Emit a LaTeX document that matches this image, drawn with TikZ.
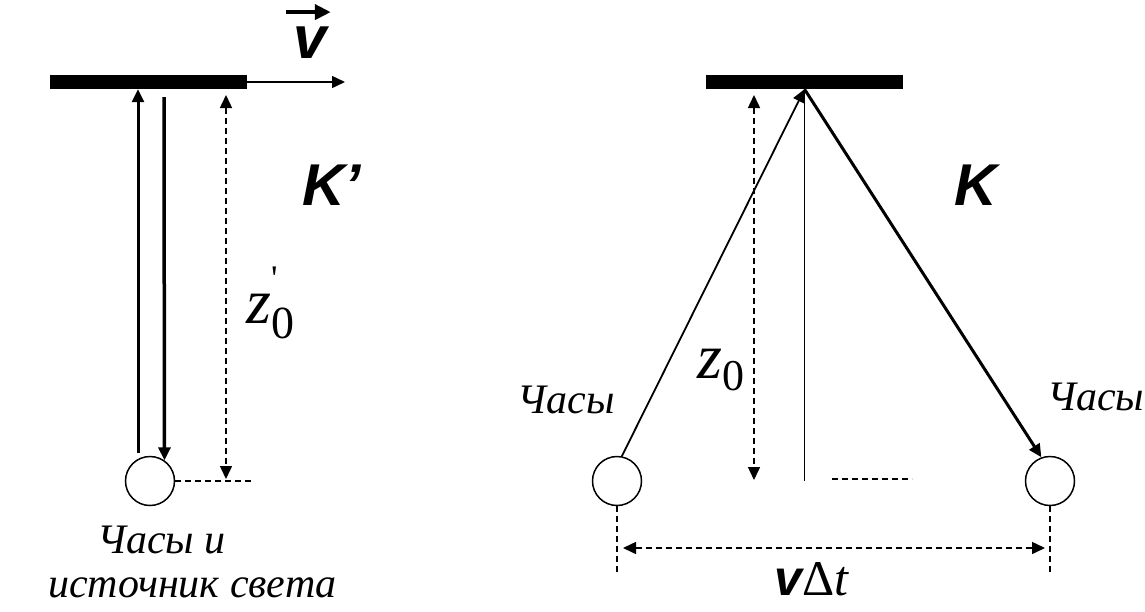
\documentclass[tikz,border=0pt]{standalone}
\usepackage{fontspec}
\setmainfont{Liberation Serif}
\setsansfont{Liberation Sans}
\usetikzlibrary{arrows.meta}

\tikzset{
  mirror/.style={fill=black, inner sep=0, minimum width=197pt, minimum height=14pt},
  clock/.style={circle, draw, line width=1.5pt, inner sep=0, minimum size=49pt},
  ray/.style={line width=3pt, ->},
  thinray/.style={line width=1.8pt, ->},
  gauge/.style={line width=1.5pt, dash pattern=on 6pt off 4pt},
  lbl/.style={inner sep=0, anchor=base west},
  bigsans/.style={font=\sffamily\bfseries\itshape\fontsize{59}{59}\selectfont},
  caption/.style={font=\itshape\fontsize{42}{42}\selectfont},
  zlabel/.style={font=\itshape\fontsize{64}{64}\selectfont},
}

\begin{document}
\begin{tikzpicture}[x=1pt, y=-1pt, >={Triangle[length=13pt,width=12pt]}]
  \useasboundingbox (0,0) rectangle (1145,611);

  % frame K' (mirror moves with the clock)
  \node[mirror] (mirL) at (148,82) {};
  \node[clock] (clkL) at (150,481) {};
  \coordinate (upL) at (138,453);
  \coordinate (dnL) at (164,97);
  \coordinate (zLtop) at (226,95);
  \coordinate (zLbot) at (226,479);
  \coordinate (zLend) at (255,481);
  \coordinate (vtip) at (345,82);
  \draw[ray] (upL) -- (upL |- mirL.south);
  \draw[ray, line width=3.5pt] (dnL) -- (clkL.55);
  \draw[gauge, <->] (zLtop) -- (zLbot);
  \draw[gauge] (clkL.east) -- (zLend);
  \draw[line width=1.5pt, ->] (mirL.east) -- (vtip);
  \node[lbl, font=\sffamily\bfseries\itshape\fontsize{60}{60}\selectfont] (vel) at (293,58) {v};
  \draw[line width=4pt, -{Triangle[length=16pt,width=15pt]}]
    ([xshift=-7pt,yshift=14pt]vel.north west) -- ([xshift=4pt,yshift=14pt]vel.north east);
  \node[lbl, bigsans] (kprime) at (302,205) {K’};
  \node[lbl, zlabel] (zprime) at (246,323)
    {z\rlap{\kern0pt\raisebox{33pt}{\upshape\fontsize{36}{36}\selectfont\textquotesingle}}\raisebox{-15pt}{\upshape\fontsize{46}{46}\selectfont 0}};
  \node[lbl, caption] (capA) at (97,553) {Часы и};
  \node[lbl, caption] (capB) at (48,597) {источник света};

  % frame K (mirror at rest, clock moves)
  \node[mirror] (mirR) at (804.5,82) {};
  \node[clock] (clkA) at (617,481) {};
  \node[clock] (clkB) at (1050,481) {};
  \coordinate (zRtop) at (754,95);
  \coordinate (zRbot) at (754,480);
  \coordinate (hR1) at (832,479);
  \coordinate (hR2) at (912,479);
  \coordinate (dropA) at (617,575);
  \coordinate (dropB) at (1050,573);
  \coordinate (spanA) at (623,548);
  \coordinate (spanB) at (1045,548);
  \draw[thinray] (clkA.79) -- (mirR.south);
  \draw[ray] (mirR.south) -- (clkB.110);
  \draw[line width=1.8pt] (mirR.south) -- (mirR.south |- clkA.center);
  \draw[gauge, <->] (zRtop) -- (zRbot);
  \draw[gauge] (hR1) -- (hR2);
  \draw[gauge] (clkA.south) -- (dropA);
  \draw[gauge] (clkB.south) -- (dropB);
  \draw[gauge, <->] (spanA) -- (spanB);
  \node[lbl, bigsans] (kframe) at (954,205) {K};
  \node[lbl, zlabel] (zrest) at (697,378)
    {z\raisebox{-12pt}{\upshape\fontsize{44}{44}\selectfont 0}};
  \node[inner sep=0, anchor=base east, caption] (capC) at (615,413) {Часы};
  \node[lbl, caption] (capD) at (1047,410) {Часы};
  \node[lbl, font=\fontsize{50}{50}\selectfont] (span) at (774,595)
    {\sffamily\bfseries\itshape v\rmfamily\mdseries\upshape Δ\itshape t};
\end{tikzpicture}
\end{document}
